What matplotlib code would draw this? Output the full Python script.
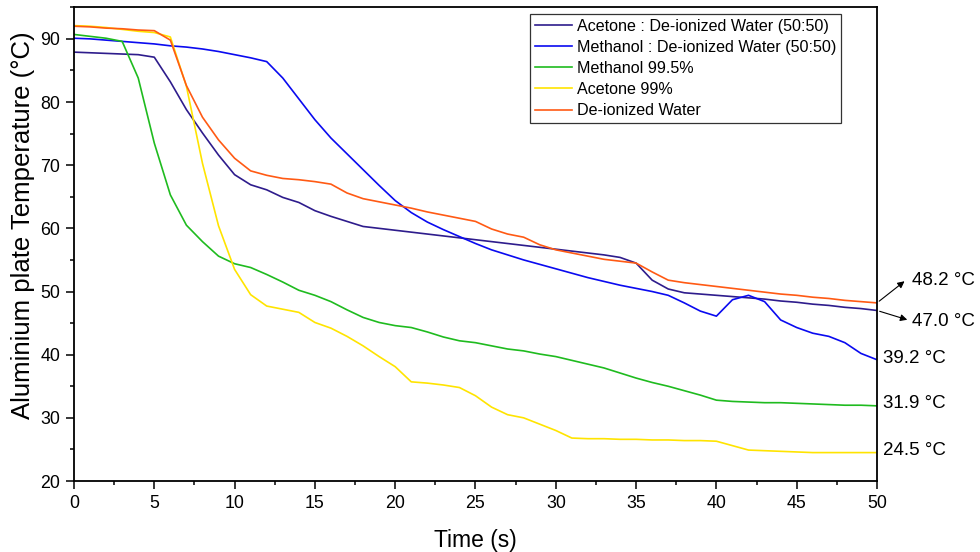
import matplotlib
matplotlib.use("Agg")
import matplotlib.pyplot as plt
from matplotlib.ticker import MultipleLocator

plt.rcParams['font.family'] = ['Liberation Sans', 'DejaVu Sans']

time_s = list(range(0, 51))

acetone_di = [87.9, 87.8, 87.7, 87.6, 87.5, 87.1, 83.2, 78.8, 75.1, 71.6,
              68.5, 66.9, 66.1, 64.9, 64.1, 62.8, 61.9, 61.1, 60.3, 60.0,
              59.7, 59.4, 59.1, 58.8, 58.5, 58.2, 57.9, 57.6, 57.3, 57.0,
              56.7, 56.4, 56.1, 55.8, 55.4, 54.5, 51.8, 50.4, 49.8, 49.6,
              49.4, 49.2, 49.0, 48.8, 48.5, 48.3, 48.0, 47.8, 47.5, 47.3, 47.0]

methanol_di = [90.1, 90.0, 89.8, 89.6, 89.4, 89.2, 88.9, 88.7, 88.4, 88.0,
               87.5, 87.0, 86.4, 83.8, 80.5, 77.2, 74.3, 71.8, 69.3, 66.8,
               64.4, 62.5, 61.0, 59.8, 58.7, 57.6, 56.6, 55.8, 55.0, 54.3,
               53.6, 52.9, 52.2, 51.6, 51.0, 50.5, 50.0, 49.4, 48.2, 46.9,
               46.1, 48.7, 49.4, 48.4, 45.5, 44.3, 43.4, 42.9, 41.9, 40.2, 39.2]

methanol_995 = [90.7, 90.4, 90.1, 89.6, 83.8, 73.5, 65.3, 60.5, 57.9, 55.6,
                54.4, 53.8, 52.7, 51.5, 50.2, 49.4, 48.4, 47.1, 45.9, 45.1,
                44.6, 44.3, 43.6, 42.8, 42.2, 41.9, 41.4, 40.9, 40.6, 40.1,
                39.7, 39.1, 38.5, 37.9, 37.1, 36.3, 35.6, 35.0, 34.3, 33.6,
                32.8, 32.6, 32.5, 32.4, 32.4, 32.3, 32.2, 32.1, 32.0, 32.0, 31.9]

acetone_99 = [92.1, 92.0, 91.8, 91.5, 91.2, 91.0, 90.3, 82.5, 70.3, 60.4,
              53.5, 49.5, 47.7, 47.2, 46.7, 45.1, 44.2, 42.9, 41.4, 39.7,
              38.1, 35.7, 35.5, 35.2, 34.8, 33.5, 31.7, 30.5, 30.0, 29.0,
              28.0, 26.8, 26.7, 26.7, 26.6, 26.6, 26.5, 26.5, 26.4, 26.4,
              26.3, 25.6, 24.9, 24.8, 24.7, 24.6, 24.5, 24.5, 24.5, 24.5, 24.5]

di_water = [92.0, 91.9, 91.7, 91.6, 91.4, 91.3, 89.8, 82.6, 77.6, 74.0,
            71.1, 69.1, 68.4, 67.9, 67.7, 67.4, 67.0, 65.6, 64.7, 64.2,
            63.7, 63.2, 62.6, 62.1, 61.6, 61.1, 59.9, 59.1, 58.6, 57.4,
            56.6, 56.1, 55.6, 55.1, 54.8, 54.5, 53.1, 51.8, 51.4, 51.1,
            50.8, 50.5, 50.2, 49.9, 49.6, 49.4, 49.1, 48.9, 48.6, 48.4, 48.2]

series_names = ["Acetone : De-ionized Water (50:50)",
                "Methanol : De-ionized Water (50:50)",
                "Methanol 99.5%",
                "Acetone 99%",
                "De-ionized Water"]
series_values = [acetone_di, methanol_di, methanol_995, acetone_99, di_water]
series_colors = ["#2E1C8C", "#0A0AF0", "#1FBB1F", "#FFE400", "#FF5A14"]

final_labels = ["48.2 °C", "47.0 °C", "39.2 °C", "31.9 °C", "24.5 °C"]

fig = plt.figure(figsize=(9.8, 5.52), dpi=100)
ax = fig.add_axes([0.0755, 0.1286, 0.8194, 0.8582])

for name, vals, col in zip(series_names, series_values, series_colors):
    ax.plot(time_s, vals, color=col, lw=1.2, label=name)

ax.set_xlim(0, 50)
ax.set_ylim(20, 95)
ax.xaxis.set_major_locator(MultipleLocator(5))
ax.xaxis.set_minor_locator(MultipleLocator(2.5))
ax.yaxis.set_major_locator(MultipleLocator(10))
ax.yaxis.set_minor_locator(MultipleLocator(5))
ax.tick_params(which='major', direction='out', length=6, width=1.1, labelsize=12.8,
               colors='black', pad=4)
ax.tick_params(which='minor', direction='out', length=3, width=1.1)
for s in ax.spines.values():
    s.set_linewidth(1.3)

ax.set_xlabel("Time (s)", fontsize=16.5)
ax.set_ylabel("Aluminium plate Temperature (°C)", fontsize=18.5)
ax.xaxis.set_label_coords(0.5, -0.102)
ax.yaxis.set_label_coords(-0.049, 0.54)

leg = ax.legend(loc='upper left', bbox_to_anchor=(0.568, 0.986), fontsize=11.6,
                frameon=True, fancybox=False, edgecolor='black', borderpad=0.3,
                labelspacing=0.38, handlelength=2.3, handletextpad=0.3, borderaxespad=0)
leg.get_frame().set_linewidth(0.9)

# arrows to end-value labels
ax.annotate('', xy=(51.85, 51.9), xytext=(50, di_water[-1]),
            arrowprops=dict(arrowstyle='-|>', color='black', lw=0.8, mutation_scale=10),
            annotation_clip=False)
ax.annotate('', xy=(52.05, 45.4), xytext=(50, acetone_di[-1]),
            arrowprops=dict(arrowstyle='-|>', color='black', lw=0.8, mutation_scale=10),
            annotation_clip=False)

label_pos = [(52.2, 51.8), (52.2, 45.2), (50.4, 39.4), (50.4, 32.2), (50.4, 24.9)]
for txt, (x, y) in zip(final_labels, label_pos):
    ax.text(x, y, txt, fontsize=13.5, va='center', ha='left', clip_on=False)

fig.savefig("out.png", dpi=100)
